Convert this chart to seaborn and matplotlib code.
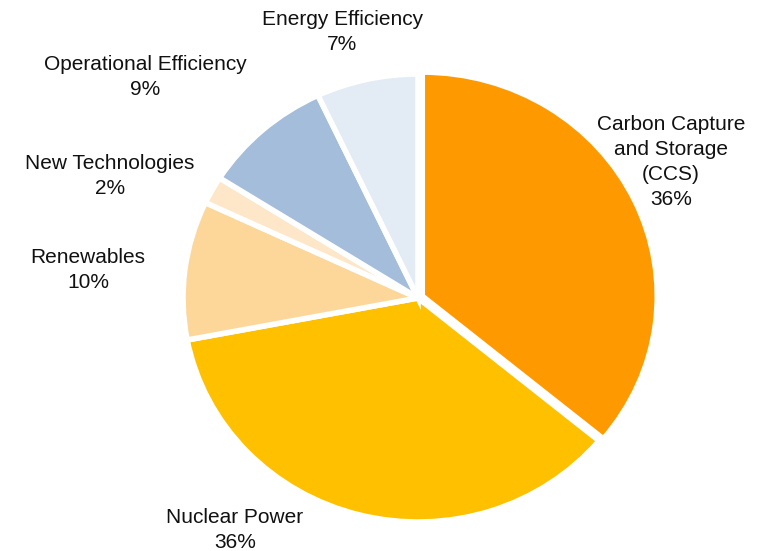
import matplotlib
matplotlib.use("Agg")
import matplotlib.pyplot as plt
import seaborn as sns

# data (clockwise from 12 o'clock)
labels = ["Carbon Capture\nand Storage\n(CCS)", "Nuclear Power", "Renewables",
          "New Technologies", "Operational Efficiency", "Energy Efficiency"]
shares = [36, 36, 10, 2, 9, 7]
colors = ["#FF9900", "#FFC000", "#FDD699", "#FEE7C8", "#A4BDDB", "#E3EBF5"]
explode = [0.02, 0, 0, 0, 0, 0]

# label anchor points in pie-radius units
label_pos = [(1.077, 0.607), (-0.779, -1.036), (-1.404, 0.125),
             (-1.311, 0.545), (-1.162, 0.987), (-0.323, 1.188)]


def main():
    sns.set_theme(style="white")
    plt.rcParams["font.family"] = ["Liberation Sans", "DejaVu Sans"]

    fig = plt.figure(figsize=(7.63, 5.51), dpi=100)
    ax = fig.add_axes([0, 0, 1, 1])

    ax.pie(shares, colors=colors, startangle=90, counterclock=False,
           explode=explode, radius=1.0,
           wedgeprops=dict(edgecolor="white", linewidth=4))

    for lab, val, (x, y) in zip(labels, shares, label_pos):
        ax.text(x, y, f"{lab}\n{val}%", ha="center", va="center",
                fontsize=15, color="#111111", linespacing=1.38)

    # pie is slightly wider than tall; centre at (418, 298) px from top-left
    cx, cy, rx, ry = 418, 298, 235, 224
    ax.set_aspect("auto")
    ax.set_xlim(-cx / rx, (763 - cx) / rx)
    ax.set_ylim(-(551 - cy) / ry, cy / ry)
    ax.axis("off")

    fig.savefig("out.png", dpi=100, facecolor="white")


if __name__ == "__main__":
    main()
